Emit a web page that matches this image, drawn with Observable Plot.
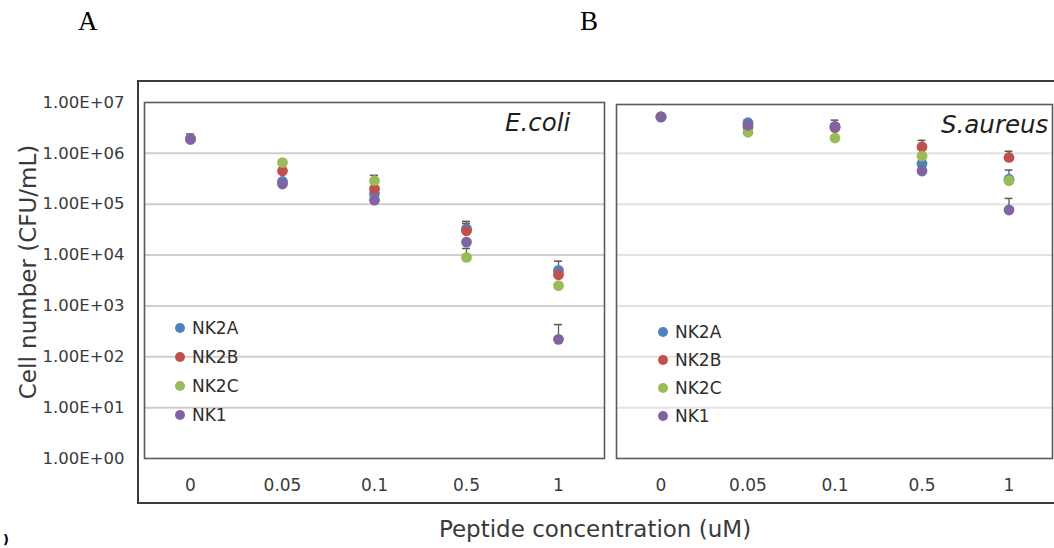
<!DOCTYPE html>
<html>
<head>
<meta charset="utf-8">
<script src="https://cdn.jsdelivr.net/npm/d3@7"></script>
<script src="https://cdn.jsdelivr.net/npm/@observablehq/plot@0.6"></script>
<style>
  html, body { margin: 0; padding: 0; background: #fff; }
  #wrap { position: relative; width: 1054px; height: 548px; overflow: hidden; font-family: "DejaVu Sans", sans-serif; color: #3a3a3a; }
  .abs { position: absolute; }
  .panel-label { font-family: "Liberation Serif", serif; font-size: 27px; color: #000; line-height: 1; }
  .frame { position: absolute; left: 137px; top: 80px; width: 940px; height: 420px; border: 2px solid #3c3c3c; box-sizing: content-box; }
  .ytitle { position: absolute; left: 28px; top: 272px; transform: translate(-50%, -50%) rotate(-90deg); white-space: nowrap; font-size: 23px; line-height: 1; }
  .xtitle { position: absolute; left: 595px; top: 518px; transform: translateX(-50%); white-space: nowrap; font-size: 23px; line-height: 1; }
  .species { position: absolute; font-style: italic; font-size: 24.5px; color: #1e1e1e; line-height: 1; white-space: nowrap; }
  .leg { position: absolute; height: 20px; display: flex; align-items: center; font-size: 17px; white-space: nowrap; color: #2e2e2e; }
  .leg .sw { width: 10px; height: 10px; border-radius: 50%; display: inline-block; margin-right: 7px; }
</style>
</head>
<body>
<div id="wrap">
  <div class="abs panel-label" style="left:78px; top:8px;">A</div>
  <div class="abs panel-label" style="left:580px; top:8px;">B</div>
  <div class="frame"></div>
  <div class="ytitle">Cell number (CFU/mL)</div>
  <div class="xtitle">Peptide concentration (uM)</div>
  <div id="p1" class="abs" style="left:0px; top:80px;"></div>
  <div id="p2" class="abs" style="left:606px; top:80px;"></div>
  <div class="species" style="left:505px; top:111px;">E.coli</div>
  <div class="species" style="left:941px; top:113px;">S.aureus</div>
  <div id="legends"></div>
  <div class="abs" style="left:3px; top:532px; font-size:13px; font-weight:bold; color:#000;">)</div>
</div>
<script>
// ---- data ----
const concentrations = ["0", "0.05", "0.1", "0.5", "1"];
const seriesNames = ["NK2A", "NK2B", "NK2C", "NK1"];
const seriesColors = ["#4F81BD", "#C0504D", "#9BBB59", "#8064A2"];
const yTickValues = [1, 1e1, 1e2, 1e3, 1e4, 1e5, 1e6, 1e7];
const yTickLabels = ["1.00E+00", "1.00E+01", "1.00E+02", "1.00E+03", "1.00E+04", "1.00E+05", "1.00E+06", "1.00E+07"];
const gridValues = [1e1, 1e2, 1e3, 1e4, 1e5, 1e6];

// E. coli
const ecoliNK2A = [1.9e6, 2.8e5, 1.6e5, 3.3e4, 5.0e3];
const ecoliNK2B = [1.9e6, 4.5e5, 2.0e5, 3.0e4, 4.1e3];
const ecoliNK2C = [1.9e6, 6.6e5, 2.9e5, 9.0e3, 2.5e3];
const ecoliNK1  = [1.9e6, 2.5e5, 1.2e5, 1.8e4, 2.2e2];
// upper error-bar ends (null = not visible)
const ecoliErrNK2A = [2.4e6, null, 2.2e5, 4.6e4, 7.6e3];
const ecoliErrNK2B = [null, null, 2.6e5, 4.2e4, null];
const ecoliErrNK2C = [null, null, 3.7e5, 1.35e4, null];
const ecoliErrNK1  = [null, null, null, null, 4.3e2];

// S. aureus
const saNK2A = [5.2e6, 4.0e6, 3.3e6, 6.3e5, 3.1e5];
const saNK2B = [5.2e6, 3.3e6, 3.2e6, 1.34e6, 8.3e5];
const saNK2C = [5.2e6, 2.6e6, 2.0e6, 8.8e5, 2.9e5];
const saNK1  = [5.2e6, 3.6e6, 3.4e6, 4.5e5, 7.7e4];
const saErrNK2A = [null, 4.6e6, null, null, 4.7e5];
const saErrNK2B = [null, null, 4.5e6, 1.8e6, 1.1e6];
const saErrNK2C = [null, null, null, null, null];
const saErrNK1  = [null, null, null, null, 1.3e5];

function buildRows(valuesList, errList) {
  const rows = [];
  seriesNames.forEach((s, si) => {
    concentrations.forEach((c, ci) => {
      rows.push({conc: c, series: s, value: valuesList[si][ci], err: errList[si][ci]});
    });
  });
  return rows;
}

const ecoliRows = buildRows([ecoliNK2A, ecoliNK2B, ecoliNK2C, ecoliNK1], [ecoliErrNK2A, ecoliErrNK2B, ecoliErrNK2C, ecoliErrNK1]);
const saRows = buildRows([saNK2A, saNK2B, saNK2C, saNK1], [saErrNK2A, saErrNK2B, saErrNK2C, saErrNK1]);

function panel(rows, opts) {
  const bandW = (opts.width - opts.marginLeft - opts.marginRight) / concentrations.length;
  const capInset = (bandW - 8) / 2;
  const errRows = rows.filter(d => d.err != null);
  const marks = [
    Plot.gridY(gridValues, {stroke: opts.gridColor, strokeOpacity: 1, strokeWidth: 2}),
    Plot.frame({stroke: "#5a5a5a", strokeWidth: 1.6, insetTop: opts.frameInsetTop || 0}),
    Plot.axisX({tickSize: 0, tickPadding: 20, fontSize: 17, fill: "#3a3a3a"}),
    Plot.ruleX(errRows, {x: "conc", y1: "value", y2: "err", stroke: "#5a5a5a", strokeWidth: 1.3}),
    Plot.tickY(errRows, {x: "conc", y: "err", stroke: "#5a5a5a", strokeWidth: 1.5, insetLeft: capInset, insetRight: capInset}),
    Plot.dot(rows, {x: "conc", y: "value", fill: "series", r: 5.4, stroke: null})
  ];
  if (opts.showY) {
    marks.push(Plot.axisY({
      ticks: yTickValues, tickSize: 0, tickPadding: 20, fontSize: 16.5, fill: "#3a3a3a",
      tickFormat: v => yTickLabels[yTickValues.indexOf(v)]
    }));
  }
  return Plot.plot({
    width: opts.width,
    height: 420,
    marginLeft: opts.marginLeft,
    marginRight: opts.marginRight,
    marginTop: 22,
    marginBottom: 42,
    style: {fontFamily: "DejaVu Sans", background: "transparent", overflow: "visible"},
    x: {type: "band", domain: concentrations, padding: 0, label: null, axis: null},
    y: {type: "log", domain: [1, 1e7], label: null, axis: null},
    color: {domain: seriesNames, range: seriesColors},
    marks
  });
}

document.getElementById("p1").append(panel(ecoliRows, {width: 606, marginLeft: 144, marginRight: 2, showY: true, gridColor: "#cfcfcf"}));
document.getElementById("p2").append(panel(saRows, {width: 448, marginLeft: 10, marginRight: 2, showY: false, gridColor: "#e3e3e3", frameInsetTop: 2}));

// legends (HTML, inside panels)
const legendPos = [
  {x: 175, ys: [328, 357, 386, 415]},
  {x: 658, ys: [332, 360, 388, 416]}
];
const legHost = document.getElementById("legends");
legendPos.forEach(p => {
  seriesNames.forEach((s, i) => {
    const row = document.createElement("div");
    row.className = "leg";
    row.style.left = p.x + "px";
    row.style.top = (p.ys[i] - 10) + "px";
    const sw = document.createElement("span");
    sw.className = "sw";
    sw.style.background = seriesColors[i];
    row.append(sw, document.createTextNode(s));
    legHost.append(row);
  });
});
</script>
</body>
</html>
